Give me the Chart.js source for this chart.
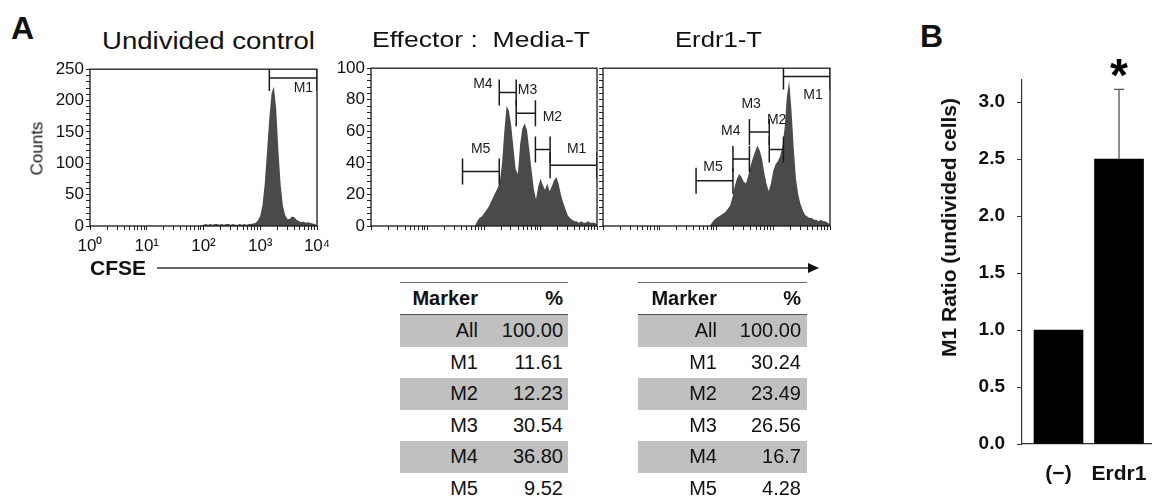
<!DOCTYPE html>
<html>
<head>
<meta charset="utf-8">
<script src="https://cdn.jsdelivr.net/npm/chart.js@4.4.1/dist/chart.umd.min.js"></script>
<style>
  html, body { margin: 0; padding: 0; background: #fff; }
  #fig { position: relative; width: 1152px; height: 499px; overflow: hidden; font-family: "Liberation Sans", Arial, sans-serif; color: #111; }
  #fig canvas { position: absolute; }
  .txt { position: absolute; white-space: pre; line-height: 1; transform-origin: 0 0; }
  .cell { position: absolute; top: 0; font-size: 20px; text-align: right; white-space: pre; }
</style>
</head>
<body>
<div id="fig">
  <canvas id="h1" width="297" height="200" style="left:40px;top:57px"></canvas>
  <canvas id="h2" width="275" height="200" style="left:330px;top:56px"></canvas>
  <canvas id="h3" width="241" height="200" style="left:597px;top:56px"></canvas>
  <canvas id="bars" width="192" height="470" style="left:960px;top:20px"></canvas>
  <svg style="position:absolute;left:150px;top:260px" width="680" height="16">
    <line x1="7" y1="8" x2="662" y2="8" stroke="#333" stroke-width="1.5"/>
    <polygon points="658,3 669,8 658,13" fill="#111"/>
  </svg>
</div>
<script>
// CFSE histograms: counts per 0.04-decade bin, starting at the given decade
const BIN = 0.04;
const undividedStart = 1.96;
const undividedCounts = [1, 2, 3, 2, 3, 2, 3, 3, 2, 3, 2, 3, 3, 2, 3, 2, 2, 3, 2, 3, 2, 3, 3, 4,
  5, 9, 16, 34, 68, 120, 172, 212, 222, 188, 120, 65, 32, 17, 11, 11, 15, 14, 10, 8, 6, 7, 5, 6, 5, 4, 3, 1];
const mediaStart = 1.84;
const mediaCounts = [0, 3, 5, 6, 8, 10, 12, 15, 18, 21, 24, 28, 40, 60, 76, 73, 64, 50, 36, 33,
  52, 62, 65, 61, 49, 36, 24, 17, 25, 30, 26, 23, 27, 22, 25, 29, 31, 27, 20, 15, 11, 7, 5, 4,
  3, 3, 2, 3, 2, 2, 3, 2, 2, 2, 1];
const erdr1Start = 1.88;
const erdr1Counts = [0, 2, 4, 5, 6, 7, 8, 9, 11, 13, 18, 25, 30, 33, 31, 28, 27, 32, 38, 43, 47,
  51, 48, 43, 34, 27, 22, 27, 35, 39, 41, 44, 50, 62, 82, 92, 74, 50, 30, 20, 14, 10, 7, 6, 5,
  5, 4, 4, 3, 4, 3, 3, 2, 1];

// marker gates (CFSE decades) and bracket height (counts)
const undividedGateNames = ['M1'];
const undividedGateFrom = [3.16];
const undividedGateTo = [4.0];
const undividedGateLevel = [236];
const mediaGateNames = ['M1', 'M2', 'M3', 'M4', 'M5'];
const mediaGateFrom = [3.17, 2.91, 2.57, 2.27, 1.62];
const mediaGateTo = [4.0, 3.17, 2.91, 2.57, 2.27];
const mediaGateLevel = [38.5, 48.5, 71.5, 84.6, 34.6];
const erdr1GateNames = ['M1', 'M2', 'M3', 'M4', 'M5'];
const erdr1GateFrom = [3.18, 2.93, 2.58, 2.29, 1.64];
const erdr1GateTo = [4.0, 3.18, 2.93, 2.58, 2.29];
const erdr1GateLevel = [94.8, 48.5, 59.6, 42.5, 28.75];
// where the gate names sit (decade, counts)
const undividedLabelX = [3.76], undividedLabelY = [220];
const mediaLabelX = [3.64, 3.21, 2.77, 1.98, 1.94], mediaLabelY = [49, 69, 86, 90, 49];
const erdr1LabelX = [3.70, 3.06, 2.61, 2.25, 1.94], erdr1LabelY = [83, 67, 77, 60, 37];

// marker tables
const markers = ['All', 'M1', 'M2', 'M3', 'M4', 'M5'];
const mediaPercent = ['100.00', '11.61', '12.23', '30.54', '36.80', '9.52'];
const erdr1Percent = ['100.00', '30.24', '23.49', '26.56', '16.7', '4.28'];

// panel B
const groups = ['(\u2212)', 'Erdr1'];
const m1Ratio = [1.0, 2.5];
const m1RatioErr = [0, 0.61];
const sigMarks = ['', '*'];

Chart.defaults.font.family = '"Liberation Sans", Arial, sans-serif';
Chart.defaults.color = '#111';

const fig = document.getElementById('fig');
const SUP = ['\u2070', '\u00b9', '\u00b2', '\u00b3', '\u2074'];
const decadeTicks = [];
for (let d = 0; d < 4; d++) for (let k = 1; k < 10; k++) decadeTicks.push(d + Math.log10(k));
decadeTicks.push(4);

const gatePlugin = {
  id: 'gates',
  afterDatasetsDraw(chart, args, o) {
    const { ctx, chartArea: a, scales: { x, y } } = chart;
    ctx.save();
    ctx.strokeStyle = '#1a1a1a';
    ctx.lineWidth = 1.3;
    ctx.strokeRect(a.left, a.top, a.right - a.left, a.bottom - a.top);
    ctx.beginPath();
    ctx.rect(a.left, a.top, a.right - a.left, a.bottom - a.top);
    ctx.clip();
    ctx.lineWidth = 1.5;
    ctx.fillStyle = '#1a1a1a';
    ctx.font = '14px "Liberation Sans", Arial, sans-serif';
    ctx.textAlign = 'center';
    ctx.textBaseline = 'middle';
    o.names.forEach((n, i) => {
      const x0 = x.getPixelForValue(o.from[i]);
      const x1 = x.getPixelForValue(o.to[i]);
      const yy = y.getPixelForValue(o.level[i]);
      ctx.beginPath();
      ctx.moveTo(x0, yy - 13); ctx.lineTo(x0, yy + 13);
      ctx.moveTo(x1, yy - 13); ctx.lineTo(x1, yy + 13);
      ctx.moveTo(x0, yy); ctx.lineTo(x1, yy);
      ctx.stroke();
      ctx.fillText(n, x.getPixelForValue(o.labelX[i]), y.getPixelForValue(o.labelY[i]));
    });
    ctx.restore();
  }
};

function histogram(id, c) {
  return new Chart(document.getElementById(id), {
    type: 'line',
    data: {
      datasets: [{
        data: c.counts.map((v, i) => ({ x: c.start + i * BIN, y: v })),
        fill: 'origin', backgroundColor: '#4a4a4a', borderWidth: 0, pointRadius: 0, tension: 0
      }]
    },
    options: {
      responsive: false, animation: false, devicePixelRatio: 1,
      layout: { padding: { top: 10, right: c.padRight, left: 0, bottom: 0 } },
      plugins: { legend: { display: false }, tooltip: { enabled: false }, gates: c.gates },
      scales: {
        x: {
          type: 'linear', min: 0, max: 4,
          afterBuildTicks: s => { s.ticks = decadeTicks.map(v => ({ value: v })); },
          afterFit: s => { s.height = c.xHeight; },
          ticks: {
            autoSkip: false, maxRotation: 0, padding: 6, font: { size: 17 },
            callback: v => c.xLabels && Math.abs(v - Math.round(v)) < 1e-6 ? '10' + SUP[Math.round(v)] : ''
          },
          grid: { drawOnChartArea: false, tickLength: 4, color: '#222' },
          border: { display: false }
        },
        y: {
          min: 0, max: c.yMax,
          afterFit: s => { s.width = c.yWidth; },
          ticks: {
            stepSize: c.yStep, autoSkip: false, padding: 2, font: { size: 17 },
            callback: v => c.yLabels && v % c.yLabelStep === 0 ? String(v) : ''
          },
          grid: { drawOnChartArea: false, tickLength: 4, color: '#222' },
          border: { display: false }
        }
      }
    },
    plugins: [gatePlugin]
  });
}

histogram('h1', {
  counts: undividedCounts, start: undividedStart, yMax: 250, yStep: 10, yLabelStep: 50,
  yLabels: true, xLabels: true, yWidth: 50, xHeight: 31, padRight: 20,
  gates: { names: undividedGateNames, from: undividedGateFrom, to: undividedGateTo, level: undividedGateLevel, labelX: undividedLabelX, labelY: undividedLabelY }
});
histogram('h2', {
  counts: mediaCounts, start: mediaStart, yMax: 100, yStep: 4, yLabelStep: 20,
  yLabels: true, xLabels: false, yWidth: 41, xHeight: 30, padRight: 8,
  gates: { names: mediaGateNames, from: mediaGateFrom, to: mediaGateTo, level: mediaGateLevel, labelX: mediaLabelX, labelY: mediaLabelY }
});
histogram('h3', {
  counts: erdr1Counts, start: erdr1Start, yMax: 100, yStep: 4, yLabelStep: 20,
  yLabels: false, xLabels: false, yWidth: 6, xHeight: 30, padRight: 8,
  gates: { names: erdr1GateNames, from: erdr1GateFrom, to: erdr1GateTo, level: erdr1GateLevel, labelX: erdr1LabelX, labelY: erdr1LabelY }
});

const errorBarPlugin = {
  id: 'errorBars',
  afterDatasetsDraw(chart) {
    const { ctx, scales: { x, y } } = chart;
    ctx.save();
    ctx.strokeStyle = '#555';
    ctx.lineWidth = 1.3;
    m1Ratio.forEach((v, i) => {
      const px = x.getPixelForValue(i);
      const top = y.getPixelForValue(v + m1RatioErr[i]);
      if (m1RatioErr[i] > 0) {
        ctx.beginPath();
        ctx.moveTo(px, y.getPixelForValue(v)); ctx.lineTo(px, top);
        ctx.moveTo(px - 5, top); ctx.lineTo(px + 5, top);
        ctx.stroke();
      }
      if (sigMarks[i]) {
        ctx.fillStyle = '#000';
        ctx.font = 'bold 46px "Liberation Sans", Arial, sans-serif';
        ctx.textAlign = 'center';
        ctx.textBaseline = 'alphabetic';
        ctx.fillText(sigMarks[i], px, top + 2);
      }
    });
    ctx.restore();
  }
};

new Chart(document.getElementById('bars'), {
  type: 'bar',
  data: { datasets: [{ data: m1Ratio.map((v, i) => ({ x: i, y: v })), backgroundColor: '#000', barThickness: 49 }] },
  options: {
    responsive: false, animation: false, devicePixelRatio: 1,
    layout: { padding: { top: 59.2, right: 0, left: 0, bottom: 0 } },
    plugins: { legend: { display: false }, tooltip: { enabled: false } },
    scales: {
      x: {
        type: 'linear', min: -0.603, max: 1.545, offset: false,
        afterBuildTicks: s => { s.ticks = groups.map((g, i) => ({ value: i })); },
        afterFit: s => { s.height = 46; },
        ticks: { autoSkip: false, maxRotation: 0, padding: 0, font: { size: 21, weight: 'bold' }, callback: v => groups[v] ?? '' },
        grid: { offset: false, drawOnChartArea: false, drawTicks: true, tickLength: 18, color: 'transparent' },
        border: { color: '#333', width: 1.2 }
      },
      y: {
        min: 0, max: 3.2,
        afterFit: s => { s.width = 62; },
        ticks: { stepSize: 0.5, includeBounds: false, padding: 12, font: { size: 19, weight: 'bold' }, callback: v => v.toFixed(1) },
        grid: { drawOnChartArea: false, tickLength: 5, color: '#333' },
        border: { color: '#333', width: 1.2 }
      }
    }
  },
  plugins: [errorBarPlugin]
});

// text helpers
function text(str, left, baseline, size, o = {}) {
  const el = document.createElement('div');
  el.className = 'txt';
  el.textContent = str;
  el.style.fontSize = size + 'px';
  if (o.bold) el.style.fontWeight = 'bold';
  fig.appendChild(el);
  const w = el.getBoundingClientRect().width;
  if (o.rotate) {
    el.style.left = (o.cx - w / 2) + 'px';
    el.style.top = (o.cy - size / 2) + 'px';
    el.style.transformOrigin = '50% 50%';
    el.style.transform = 'rotate(-90deg)';
  } else {
    el.style.left = left + 'px';
    el.style.top = (baseline - 0.847 * size) + 'px';
    if (o.width) el.style.transform = `scaleX(${o.width / w})`;
  }
  return el;
}

text('A', 11, 39, 32, { bold: true });
text('B', 920, 47, 32, { bold: true });
text('Undivided control', 102, 49, 23, { width: 213 });
text('Effector :  Media-T', 372, 48, 22, { width: 218 });
text('Erdr1-T', 675, 48, 22, { width: 87 });
text('Counts', 0, 0, 17, { rotate: true, cx: 37, cy: 148 });
text('CFSE', 90, 275, 21, { bold: true });
text('M1 Ratio (undivided cells)', 0, 0, 21, { bold: true, rotate: true, cx: 949, cy: 227 });

function table(left, width, markerRight, valueRight, values) {
  const add = (top, h, bg, border) => {
    const r = document.createElement('div');
    r.style.cssText = `position:absolute;left:${left}px;top:${top}px;width:${width}px;height:${h}px;line-height:${h}px;background:${bg};` + (border || '');
    fig.appendChild(r);
    return r;
  };
  const cell = (row, str, right, bold) => {
    const c = document.createElement('div');
    c.className = 'cell';
    c.style.right = (width - right) + 'px';
    if (bold) c.style.fontWeight = 'bold';
    c.textContent = str;
    row.appendChild(c);
  };
  const head = add(282, 31, 'transparent', 'border-top:1px solid #666;border-bottom:2px solid #555;box-sizing:content-box;');
  cell(head, 'Marker', markerRight, true);
  cell(head, '%', valueRight, true);
  markers.forEach((m, i) => {
    const row = add(315 + i * 31.5, 31.5, i % 2 === 0 ? '#c0c0c0' : 'transparent');
    cell(row, m, markerRight);
    cell(row, values[i], valueRight);
  });
}
table(400, 168, 78, 163, mediaPercent);
table(638, 169, 79, 163, erdr1Percent);
</script>
</body>
</html>
